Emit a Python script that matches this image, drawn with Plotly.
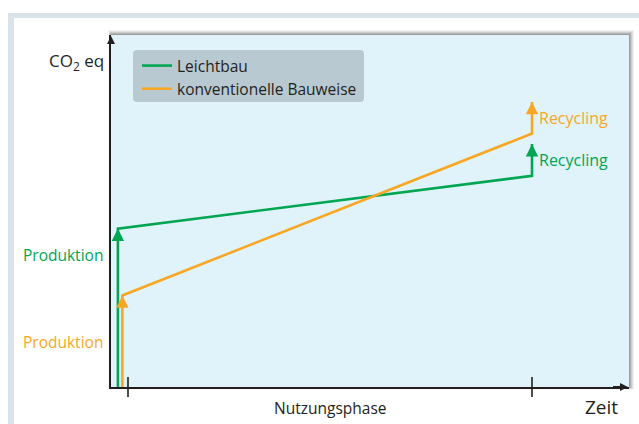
import plotly.graph_objects as go

# ---- figure geometry (pixels) ----
W, H = 639, 424
ML, MR, MT, MB = 111, 10, 35, 37
PW, PH = W - ML - MR, H - MT - MB


def px(xp):
    """pixel column -> paper x"""
    return (xp - ML) / PW


def py(yp):
    """pixel row -> paper y"""
    return (H - MB - yp) / PH


# ---- data ----
series = ["Leichtbau", "konventionelle Bauweise"]
colors = ["#00a651", "#f8a724"]
x_production = [-0.025, -0.014]   # time of production (just before use phase)
x_recycling = [1.0, 1.0]          # end of use phase
co2_production = [45, 26]         # CO2 eq after production
co2_use_end = [60, 72]            # CO2 eq at end of use phase
co2_recycling = [69, 81]          # CO2 eq after recycling
phase_ticks = [0, 1]              # start / end of Nutzungsphase

ink = "#231f20"
font = "Open Sans"

fig = go.Figure()

for name, c, xp, xr, p, u, r in zip(series, colors, x_production, x_recycling,
                                    co2_production, co2_use_end, co2_recycling):
    fig.add_trace(go.Scatter(
        x=[xp, xp, xr, xr], y=[0, p, u, r], mode="lines", name=name,
        line=dict(color=c, width=2.6), hoverinfo="skip"))

annotations = []
# arrow heads on the production and recycling steps
for c, xp, xr, p, r in zip(colors, x_production, x_recycling,
                           co2_production, co2_recycling):
    for xx, yy in ((xp, p), (xr, r)):
        annotations.append(dict(
            x=xx, y=yy, ax=xx, ay=yy - 4, xref="x", yref="y", axref="x", ayref="y",
            showarrow=True, arrowhead=2, arrowsize=0.95, arrowwidth=2.6,
            arrowcolor=c, text=" "))

# step labels
prod_label_y = [37.5, 12.8]
for c, ly in zip(colors, prod_label_y):
    annotations.append(dict(
        x=px(105), y=ly, xref="paper", yref="y", text="Produktion",
        showarrow=False, xanchor="right", yanchor="middle",
        font=dict(color=c, size=15.5, family=font)))
for c, xr, u, r in zip(colors, x_recycling, co2_use_end, co2_recycling):
    annotations.append(dict(
        x=xr, y=(u + r) / 2, xref="x", yref="y", text="Recycling", xshift=5,
        showarrow=False, xanchor="left", yanchor="middle",
        font=dict(color=c, size=16, family=font)))

# axis titles
annotations.append(dict(x=px(106), y=py(61), xref="paper", yref="paper",
                        text="CO<sub>2</sub> eq", showarrow=False, xanchor="right",
                        yanchor="middle", font=dict(color=ink, size=17, family=font)))
annotations.append(dict(x=sum(phase_ticks) / 2, y=py(408), xref="x", yref="paper",
                        text="Nutzungsphase", showarrow=False, xanchor="center",
                        yanchor="middle", font=dict(color=ink, size=15.5, family=font)))
annotations.append(dict(x=px(620), y=py(407), xref="paper", yref="paper",
                        text="Zeit", showarrow=False, xanchor="right",
                        yanchor="middle", font=dict(color=ink, size=19, family=font)))

# axis arrow heads
annotations.append(dict(x=0, y=py(36), ax=0, ay=14, xref="paper", yref="paper",
                        axref="pixel", ayref="pixel", showarrow=True, arrowhead=2,
                        arrowsize=0.8, arrowwidth=2, arrowcolor=ink, text=" "))
annotations.append(dict(x=px(628), y=0, ax=-18, ay=0, xref="paper", yref="paper",
                        axref="pixel", ayref="pixel", showarrow=True, arrowhead=2,
                        arrowsize=0.8, arrowwidth=2, arrowcolor=ink, text=" "))

shapes = []
# outer frame
shapes.append(dict(type="rect", xref="paper", yref="paper", x0=px(8), x1=px(W + 20),
                   y0=py(13), y1=py(H + 20), fillcolor="#dbe3ea", line_width=0, layer="below"))
shapes.append(dict(type="rect", xref="paper", yref="paper", x0=px(14), x1=px(W + 20),
                   y0=py(18), y1=py(H + 20), fillcolor="white", line_width=0, layer="below"))
# soft shadow round the plotting panel
for k, a in zip([5, 4, 3, 2, 1], [0.05, 0.07, 0.09, 0.11, 0.13]):
    shapes.append(dict(type="rect", xref="paper", yref="paper",
                       x0=px(ML - k * 0.5), x1=px(W - MR + k), y0=py(H - MB + k * 0.5),
                       y1=py(MT - k), fillcolor=f"rgba(0,0,0,{a})", line_width=0,
                       layer="below"))
shapes.append(dict(type="rect", xref="paper", yref="paper", x0=0, x1=1, y0=0, y1=1,
                   fillcolor="#e1f3fa", line_width=0, layer="below"))


# legend panel with rounded corners
def rounded(x0, y0, x1, y1, r):
    X = lambda v: px(v)
    Y = lambda v: py(v)
    return (f"M {X(x0 + r)},{Y(y0)} L {X(x1 - r)},{Y(y0)} Q {X(x1)},{Y(y0)} {X(x1)},{Y(y0 + r)} "
            f"L {X(x1)},{Y(y1 - r)} Q {X(x1)},{Y(y1)} {X(x1 - r)},{Y(y1)} "
            f"L {X(x0 + r)},{Y(y1)} Q {X(x0)},{Y(y1)} {X(x0)},{Y(y1 - r)} "
            f"L {X(x0)},{Y(y0 + r)} Q {X(x0)},{Y(y0)} {X(x0 + r)},{Y(y0)} Z")


shapes.append(dict(type="path", xref="paper", yref="paper",
                   path=rounded(133, 50, 364, 102, 4), fillcolor="#b9c9d2",
                   line_width=0, layer="below"))

# ticks marking the use phase
for t in phase_ticks:
    shapes.append(dict(type="line", xref="x", yref="paper", x0=t, x1=t,
                       y0=py(397), y1=py(377), line=dict(color=ink, width=1.6)))

fig.update_layout(
    width=W, height=H, margin=dict(l=ML, r=MR, t=MT, b=MB),
    paper_bgcolor="white", plot_bgcolor="rgba(0,0,0,0)",
    xaxis=dict(range=[(ML - 128) / 404, (W - MR - 128) / 404], showgrid=False,
               zeroline=False, showticklabels=False, ticks="", showline=True,
               linecolor=ink, linewidth=2, fixedrange=True),
    yaxis=dict(range=[0, 100], showgrid=False, zeroline=False, showticklabels=False,
               ticks="", showline=True, linecolor=ink, linewidth=2, fixedrange=True),
    legend=dict(x=px(137), y=py(49), xanchor="left", yanchor="top",
                bgcolor="rgba(0,0,0,0)", font=dict(size=15.5, family=font, color=ink),
                tracegroupgap=0, itemwidth=30),
    showlegend=True,
    annotations=annotations, shapes=shapes,
    font=dict(family=font),
)

fig.write_html("out.html", config={"displayModeBar": False})
